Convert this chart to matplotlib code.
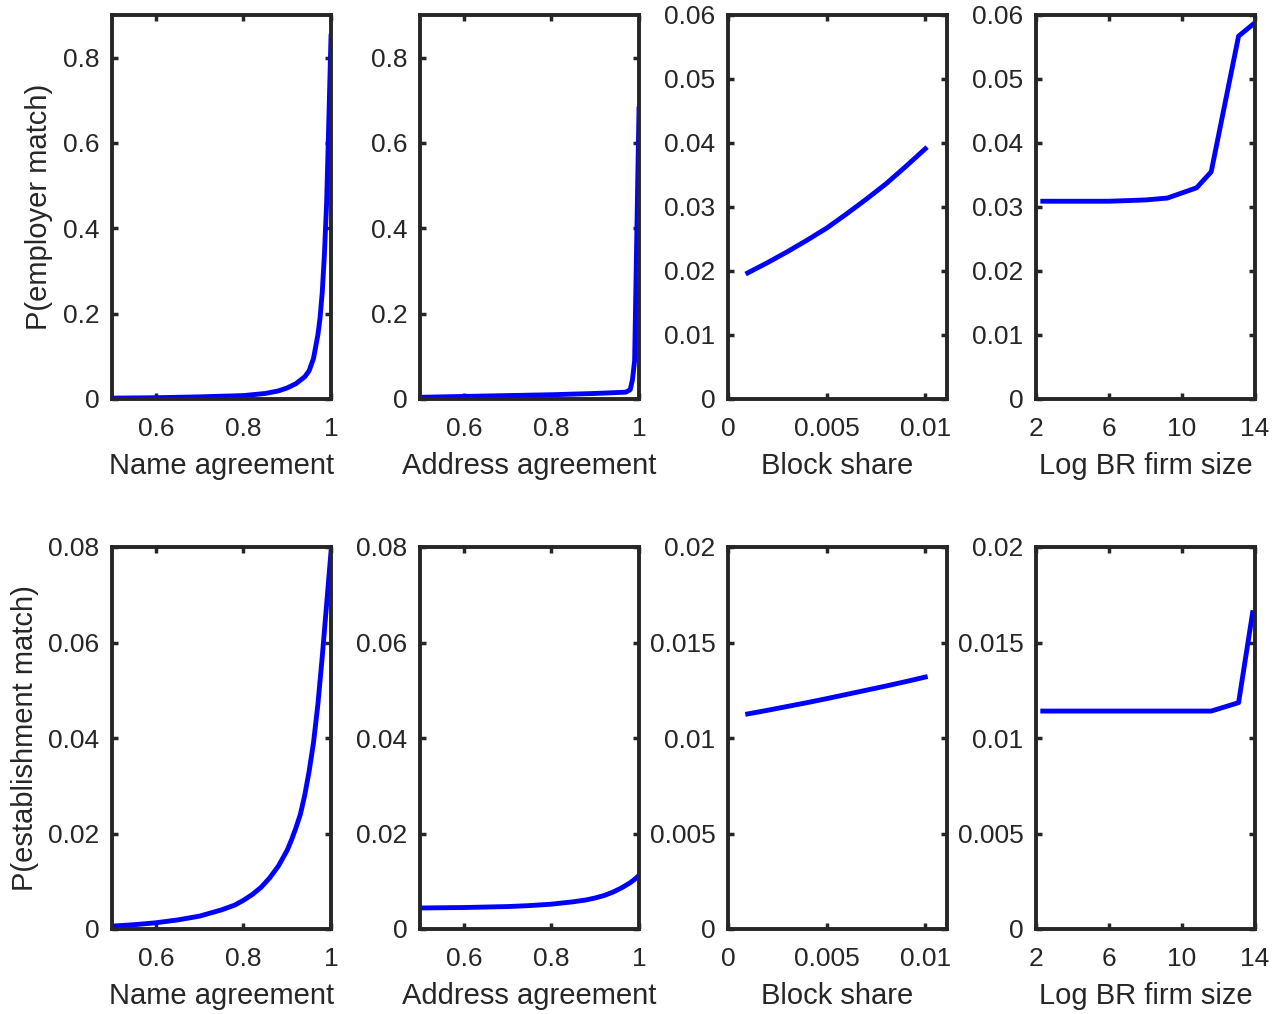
import numpy as np
import matplotlib
matplotlib.use("Agg")
import matplotlib.pyplot as plt

plt.rcParams['font.family'] = ['Liberation Sans', 'DejaVu Sans']

# ---- data ----
# name agreement
name_x = [0.50, 0.60, 0.70, 0.80, 0.85, 0.88, 0.90, 0.92, 0.94, 0.95, 0.96,
          0.97, 0.975, 0.98, 0.985, 0.99, 0.995, 1.00]
name_emp = [0.002, 0.003, 0.005, 0.008, 0.013, 0.019, 0.026, 0.036, 0.052, 0.066,
            0.095, 0.150, 0.190, 0.250, 0.340, 0.460, 0.650, 0.850]
name_x2 = [0.50, 0.55, 0.60, 0.65, 0.70, 0.75, 0.78, 0.80, 0.82, 0.84, 0.86, 0.88,
           0.90, 0.91, 0.92, 0.93, 0.94, 0.95, 0.96, 0.97, 0.98, 0.99, 1.00]
name_est = [0.0006, 0.0009, 0.0013, 0.0019, 0.0027, 0.0040, 0.0050, 0.0060,
            0.0072, 0.0087, 0.0107, 0.0132, 0.0165, 0.0187, 0.0212, 0.0240,
            0.0280, 0.0330, 0.0390, 0.0470, 0.0570, 0.0680, 0.0790]

# address agreement
addr_x = [0.50, 0.60, 0.70, 0.80, 0.90, 0.97, 0.98, 0.985, 0.99, 1.00]
addr_emp = [0.004, 0.006, 0.008, 0.010, 0.013, 0.016, 0.022, 0.045, 0.090, 0.680]
addr_x2 = [0.50, 0.60, 0.70, 0.75, 0.80, 0.85, 0.88, 0.90, 0.92, 0.94, 0.96,
           0.98, 0.99, 1.00]
addr_est = [0.0044, 0.0045, 0.0047, 0.0049, 0.0052, 0.0057, 0.0061, 0.0065,
            0.0070, 0.0077, 0.0086, 0.0097, 0.0104, 0.0112]

# block share
block_x = [0.001, 0.002, 0.003, 0.004, 0.005, 0.006, 0.007, 0.008, 0.009, 0.010]
block_emp = [0.0197, 0.0213, 0.0230, 0.0248, 0.0267, 0.0289, 0.0312, 0.0336,
             0.0363, 0.0391]
block_est = [0.01126, 0.01145, 0.01165, 0.01185, 0.01206, 0.01228, 0.01250,
             0.01272, 0.01295, 0.01319]

# log BR firm size
size_x = [2.37, 4.0, 6.0, 7.0, 8.0, 9.2, 10.8, 11.6, 13.1, 13.87]
size_emp = [0.0309, 0.0309, 0.0309, 0.0310, 0.0311, 0.0314, 0.0330, 0.0355,
            0.0567, 0.0585]
size_est = [0.01141, 0.01141, 0.01141, 0.01141, 0.01141, 0.01141, 0.01141,
            0.01141, 0.01185, 0.01656]

xlabels = ['Name agreement', 'Address agreement', 'Block share', 'Log BR firm size']
ylabels = ['P(employer match)', 'P(establishment match)']

W, H = 1272, 1014
fig = plt.figure(figsize=(W / 100, H / 100), dpi=100)

lefts = [112, 420, 728, 1036]
aw = 219
rows = [(15, 399), (547, 929)]

dark = '#262626'
blue = '#0000ff'

panels = [
    [(name_x, name_emp), (addr_x, addr_emp), (block_x, block_emp), (size_x, size_emp)],
    [(name_x2, name_est), (addr_x2, addr_est), (block_x, block_est), (size_x, size_est)],
]

xlims = [(0.5, 1.0), (0.5, 1.0), (0, 0.0111), (2, 14)]
xticks = [([0.6, 0.8, 1.0], ['0.6', '0.8', '1']),
          ([0.6, 0.8, 1.0], ['0.6', '0.8', '1']),
          ([0, 0.005, 0.01], ['0', '0.005', '0.01']),
          ([2, 6, 10, 14], ['2', '6', '10', '14'])]

ylims = [[(0, 0.9), (0, 0.9), (0, 0.06), (0, 0.06)],
         [(0, 0.08), (0, 0.08), (0, 0.02), (0, 0.02)]]
yticks = [[([0, 0.2, 0.4, 0.6, 0.8], ['0', '0.2', '0.4', '0.6', '0.8'])] * 2 +
          [([0, 0.01, 0.02, 0.03, 0.04, 0.05, 0.06],
            ['0', '0.01', '0.02', '0.03', '0.04', '0.05', '0.06'])] * 2,
          [([0, 0.02, 0.04, 0.06, 0.08], ['0', '0.02', '0.04', '0.06', '0.08'])] * 2 +
          [([0, 0.005, 0.01, 0.015, 0.02], ['0', '0.005', '0.01', '0.015', '0.02'])] * 2]

for r, (top, bot) in enumerate(rows):
    for c in range(4):
        ax = fig.add_axes([lefts[c] / W, 1 - bot / H, aw / W, (bot - top) / H])
        x, y = panels[r][c]
        ax.plot(x, y, color=blue, lw=3.5)
        ax.set_xlim(*xlims[c])
        ax.set_ylim(*ylims[r][c])
        ax.set_xticks(xticks[c][0])
        ax.set_xticklabels(xticks[c][1])
        ax.set_yticks(yticks[r][c][0])
        ax.set_yticklabels(yticks[r][c][1])
        ax.tick_params(direction='in', length=4.5, width=2.5, colors=dark,
                       labelsize=19, top=True, right=True)
        ax.tick_params(axis='x', pad=13)
        ax.tick_params(axis='y', pad=9)
        for s in ax.spines.values():
            s.set_linewidth(2.8)
            s.set_color(dark)
        ax.set_xlabel(xlabels[c], fontsize=21, color=dark, labelpad=8)
        if c == 0:
            ax.set_ylabel(ylabels[r], fontsize=21, color=dark, labelpad=7)

fig.savefig('out.png', dpi=100)
